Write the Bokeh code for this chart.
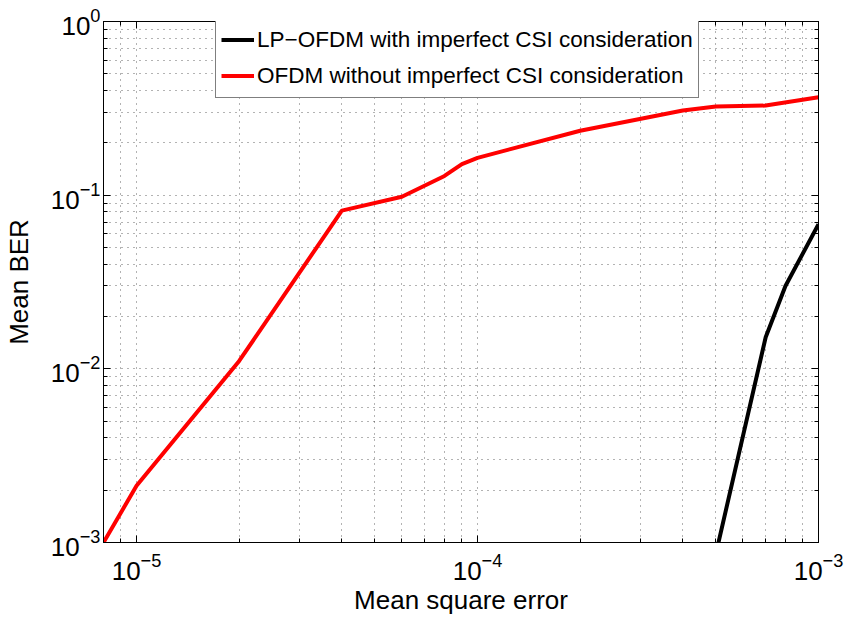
from bokeh.plotting import figure
from bokeh.models import LogAxis, FixedTicker, Legend, LegendItem, Range1d, CustomJSTickFormatter
from bokeh.embed import file_html
from bokeh.resources import INLINE

# ---- data ----
mse_lp = [5e-4, 7e-4, 8e-4, 1e-3]
ber_lp = [8.6e-4, 1.52e-2, 3.0e-2, 6.8e-2]

mse_ofdm = [8e-6, 1e-5, 2e-5, 4e-5, 6e-5, 8e-5, 9e-5, 1e-4, 2e-4, 4e-4, 5e-4, 7e-4, 1e-3]
ber_ofdm = [1e-3, 2.12e-3, 1.11e-2, 8.15e-2, 9.8e-2, 1.29e-1, 1.51e-1, 1.64e-1,
            2.35e-1, 3.07e-1, 3.24e-1, 3.28e-1, 3.66e-1]

label_lp = "LP\u2212OFDM with imperfect CSI consideration"
label_ofdm = "OFDM without imperfect CSI consideration"
x_title = "Mean square error"
y_title = "Mean BER"

x_major = [1e-5, 1e-4, 1e-3]
y_major = [1e-3, 1e-2, 1e-1, 1e0]
x_decades = [-6, -5, -4]
y_decades = [-3, -2, -1]

FONT = "Liberation Sans"

x_minor = [k * 10.0 ** e for e in x_decades for k in range(2, 10)]
y_minor = [k * 10.0 ** e for e in y_decades for k in range(2, 10)]

p = figure(width=848, height=619, x_axis_type="log", y_axis_type="log",
           x_range=Range1d(8e-6, 1e-3), y_range=Range1d(1e-3, 1.0),
           output_backend="svg", toolbar_location=None,
           min_border_left=103, min_border_right=30, min_border_top=21,
           min_border_bottom=77)
p.background_fill_color = "white"
p.border_fill_color = "white"
p.outline_line_color = "black"
p.outline_line_width = 1

xt = FixedTicker(ticks=x_major, minor_ticks=x_minor)
yt = FixedTicker(ticks=y_major, minor_ticks=y_minor)

def style_axis(ax, ticker, show_labels=True):
    ax.ticker = ticker
    ax.axis_line_color = "black"
    ax.major_tick_line_color = "black"
    ax.minor_tick_line_color = "black"
    ax.major_tick_in = 7
    ax.major_tick_out = 0
    ax.minor_tick_in = 4
    ax.minor_tick_out = 0
    ax.major_label_text_font = FONT
    ax.major_label_text_color = "black"
    if show_labels:
        ax.major_label_text_font_size = "26px"
    else:
        ax.formatter = CustomJSTickFormatter(code="return ''")
        ax.major_label_text_font_size = "1px"
        ax.major_label_standoff = 0
    ax.axis_label_text_font = FONT
    ax.axis_label_text_font_size = "26px"
    ax.axis_label_text_font_style = "normal"
    ax.axis_label_text_color = "black"

xa = p.xaxis[0]
ya = p.yaxis[0]
style_axis(xa, xt)
style_axis(ya, yt)
xa.axis_label = x_title
ya.axis_label = y_title
xa.major_label_standoff = 10
ya.major_label_standoff = 3
xa.axis_label_standoff = 2
ya.axis_label_standoff = 14

top = LogAxis()
style_axis(top, xt, show_labels=False)
right = LogAxis()
style_axis(right, yt, show_labels=False)
p.add_layout(top, "above")
p.add_layout(right, "right")

for g in (p.xgrid[0], p.ygrid[0]):
    g.grid_line_color = "black"
    g.grid_line_alpha = 0.6
    g.grid_line_dash = "1 5"
    g.grid_line_width = 1
    g.minor_grid_line_color = "black"
    g.minor_grid_line_alpha = 0.6
    g.minor_grid_line_dash = "1 5"
    g.minor_grid_line_width = 1

r_lp = p.line(mse_lp, ber_lp, line_color="black", line_width=4)
r_ofdm = p.line(mse_ofdm, ber_ofdm, line_color="#ff0000", line_width=4)

legend = Legend(items=[LegendItem(label=label_lp, renderers=[r_lp]),
                       LegendItem(label=label_ofdm, renderers=[r_ofdm])],
                location=(112, 444), margin=0, padding=5, spacing=3,
                glyph_width=33, glyph_height=33, label_standoff=3,
                label_text_font=FONT, label_text_font_size="22.5px",
                label_text_color="black", border_line_color="black",
                border_line_width=1, background_fill_color="white",
                background_fill_alpha=1.0)
p.add_layout(legend)

open("out.html", "w").write(file_html(p, INLINE))
